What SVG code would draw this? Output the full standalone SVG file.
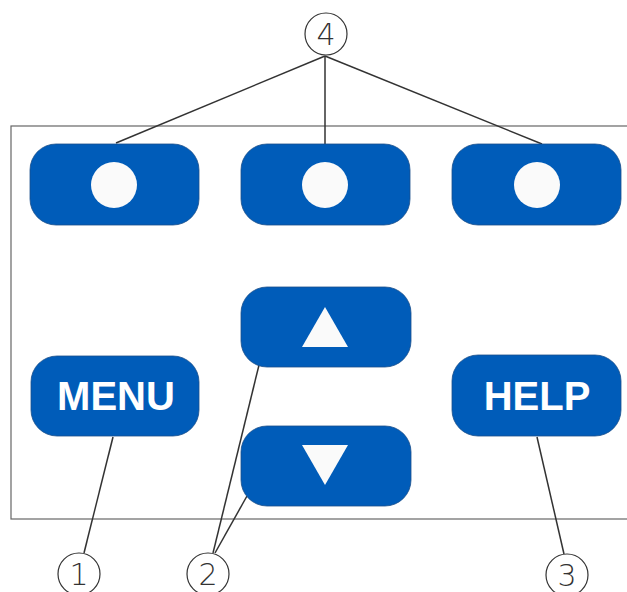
<svg xmlns="http://www.w3.org/2000/svg" width="627" height="592" viewBox="0 0 627 592">
<style>
.btn{fill:#005cb9;stroke:#1a4f8a;stroke-width:0.8}
.dot{fill:#fafafa}
.tri{fill:#fafafa}
.lbl{font-family:"Liberation Sans",Arial,sans-serif;font-weight:bold;font-size:40px;fill:#ffffff;text-anchor:middle}
.co circle{fill:#ffffff;stroke:#333333;stroke-width:1.2}
.co text{font-family:"DejaVu Sans","Noto Sans",sans-serif;font-weight:200;font-size:30px;fill:#333333;text-anchor:middle}
.ln{stroke:#333333;stroke-width:1.5;fill:none}
</style>
<rect width="627" height="592" fill="#ffffff"/>
<rect id="panel" x="11" y="126" width="640" height="393" fill="none" stroke="#666666" stroke-width="1.2"/>
<g id="connectors" class="ln">
<line x1="325" y1="56" x2="116" y2="143"/>
<line x1="325" y1="56" x2="325" y2="144"/>
<line x1="325" y1="56" x2="542" y2="144"/>
<line x1="113" y1="437" x2="84" y2="553"/>
<line x1="259" y1="365" x2="213" y2="553"/>
<line x1="247" y1="496" x2="215" y2="553"/>
<line x1="537" y1="437" x2="564" y2="554"/>
</g>
<g id="soft1"><rect class="btn" x="30" y="144" width="169" height="81" rx="26"/><circle class="dot" cx="114" cy="185" r="23"/></g>
<g id="soft2"><rect class="btn" x="241" y="144" width="169" height="81" rx="26"/><circle class="dot" cx="325" cy="185" r="23"/></g>
<g id="soft3"><rect class="btn" x="452" y="144" width="169" height="81" rx="26"/><circle class="dot" cx="537" cy="185" r="23"/></g>
<g id="up"><rect class="btn" x="241" y="287" width="170" height="80" rx="26"/><polygon class="tri" points="325,307 348,347 302,347"/></g>
<g id="down"><rect class="btn" x="241" y="426" width="170" height="80" rx="26"/><polygon class="tri" points="302,445 348,445 325,485"/></g>
<g id="menu"><rect class="btn" x="31" y="356" width="168" height="80" rx="26"/><text class="lbl" x="116" y="410">MENU</text></g>
<g id="help"><rect class="btn" x="452" y="355" width="169" height="81" rx="26"/><text class="lbl" x="537" y="410">HELP</text></g>
<g id="c4" class="co"><circle cx="326" cy="34" r="21"/><text x="326" y="45">4</text></g>
<g id="c1" class="co"><circle cx="79" cy="574" r="21"/><text x="79" y="585">1</text></g>
<g id="c2" class="co"><circle cx="208" cy="574" r="21"/><text x="208" y="585">2</text></g>
<g id="c3" class="co"><circle cx="567" cy="575" r="21"/><text x="567" y="586">3</text></g>
</svg>
